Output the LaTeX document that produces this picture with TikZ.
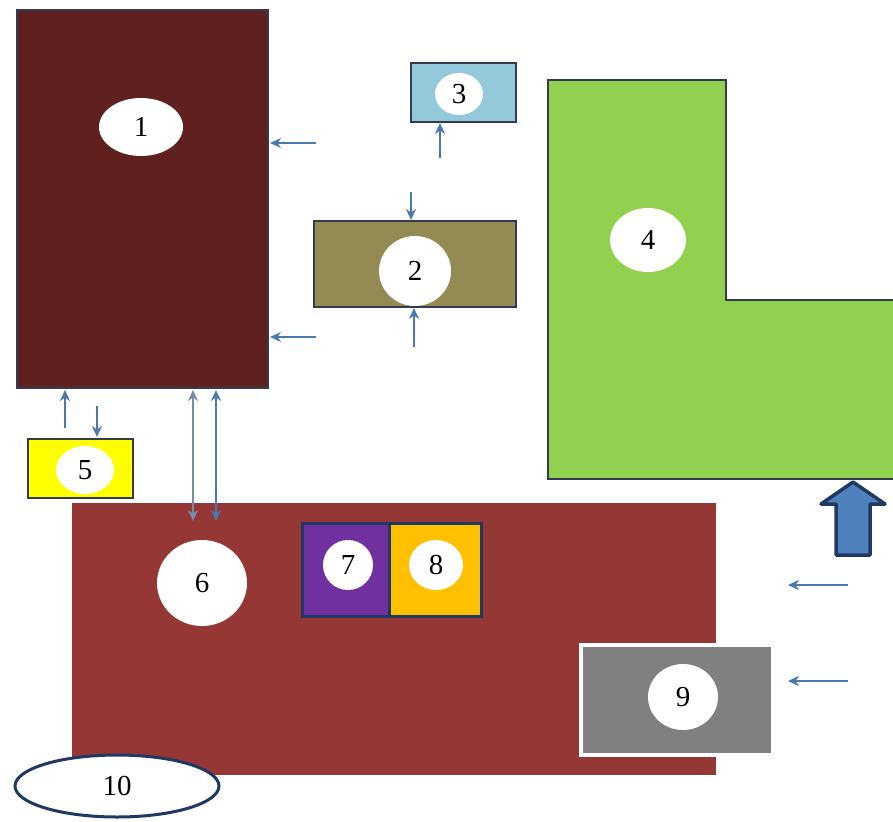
\documentclass[tikz,border=0pt]{standalone}
\usepackage{fontspec}
\setmainfont{Liberation Serif}
\usetikzlibrary{shapes.geometric,arrows.meta}
\definecolor{maroon}{HTML}{60201F}
\definecolor{olive}{HTML}{948A54}
\definecolor{lblue}{HTML}{93C9DB}
\definecolor{lgreen}{HTML}{92D050}
\definecolor{yel}{HTML}{FFFF00}
\definecolor{brick}{HTML}{953735}
\definecolor{purp}{HTML}{7030A0}
\definecolor{oran}{HTML}{FFC000}
\definecolor{greyb}{HTML}{808080}
\definecolor{navy}{HTML}{1F3864}
\definecolor{arr}{HTML}{4A79AF}
\definecolor{bigarr}{HTML}{4F81BD}
\definecolor{edge}{HTML}{333B4C}
\tikzset{
  box/.style={draw=edge,line width=1.5pt},
  lab/.style={ellipse,fill=white,inner sep=0pt,font=\fontsize{29}{30}\selectfont},
  flow/.style={draw=arr,line width=2pt,-{Stealth[length=11pt,width=10pt]}},
  dflow/.style={draw=arr,line width=2pt,{Stealth[length=11pt,width=10pt]}-{Stealth[length=11pt,width=10pt]}},
}
\begin{document}
\begin{tikzpicture}[x=1pt,y=-1pt]
\useasboundingbox[fill=white] (0,0) rectangle (893,821);
% box 1
\draw[box,fill=maroon] (17,10) rectangle (268,388);
\coordinate (b1a) at (270,143);
\coordinate (b1b) at (270,337);
\node[lab,minimum width=84pt,minimum height=58pt] (e1) at (141,127) {1};
% box 3
\draw[box,fill=lblue] (411,63) rectangle (516,122);
\node[lab,minimum width=48pt,minimum height=42pt] (e3) at (459,94) {3};
% box 2
\draw[box,fill=olive] (314,221) rectangle (516,307);
\node[lab,minimum width=72pt,minimum height=70pt] (e2) at (415,271) {2};
% shape 4
\fill[lgreen] (548,80) -- (726,80) -- (726,300) -- (893,300) -- (893,479) -- (548,479) -- cycle;
\draw[edge,line width=1.5pt] (893,300) -- (726,300) -- (726,80) -- (548,80) -- (548,479) -- (893,479);
\node[lab,minimum width=76pt,minimum height=64pt] (e4) at (648,240) {4};
% box 5
\draw[box,fill=yel] (28,439) rectangle (133,498);
\node[lab,minimum width=58pt,minimum height=48pt] (e5) at (85,470) {5};
% box 6
\fill[brick] (72,503) rectangle (716,775);
\node[lab,minimum width=90pt,minimum height=86pt] (e6) at (202,583) {6};
% boxes 7 and 8
\draw[navy,line width=3pt,fill=purp] (302,523) rectangle (389,616);
\draw[navy,line width=3pt,fill=oran] (389,523) rectangle (481,616);
\node[lab,minimum width=50pt,minimum height=50pt] (e7) at (348,565) {7};
\node[lab,minimum width=54pt,minimum height=50pt] (e8) at (436,565) {8};
% box 9
\draw[white,line width=4pt,fill=greyb] (581,645) rectangle (773,755);
\node[lab,minimum width=70pt,minimum height=66pt] (e9) at (683,697) {9};
% ellipse 10
\node[ellipse,draw=navy,line width=3pt,fill=white,minimum width=204pt,minimum height=62pt,inner sep=0pt,font=\fontsize{29}{30}\selectfont] (e10) at (117,786) {10};
% big arrow
\draw[navy,line width=3.5pt,fill=bigarr,line join=round] (853,482) -- (885,504) -- (870,504) -- (870,555) -- (836,555) -- (836,504) -- (821,504) -- cycle;
% small arrows
\coordinate (a1s) at (316,143);
\coordinate (a2s) at (316,337);
\draw[flow] (a1s) -- (b1a);
\draw[flow] (a2s) -- (b1b);
\coordinate (a3s) at (440,158); \coordinate (a3e) at (440,123);
\draw[flow] (a3s) -- (a3e);
\coordinate (a4s) at (411,192); \coordinate (a4e) at (411,220);
\draw[flow] (a4s) -- (a4e);
\coordinate (a5s) at (414,347); \coordinate (a5e) at (414,308);
\draw[flow] (a5s) -- (a5e);
\coordinate (a6s) at (65,428); \coordinate (a6e) at (65,390);
\draw[flow] (a6s) -- (a6e);
\coordinate (a7s) at (97,406); \coordinate (a7e) at (97,437);
\draw[flow] (a7s) -- (a7e);
\coordinate (d1s) at (193,390); \coordinate (d1e) at (193,521);
\draw[dflow,line width=1.3pt,draw={rgb,255:red,120;green,140;blue,170}] (d1s) -- (d1e);
\coordinate (d2s) at (216,390); \coordinate (d2e) at (216,521);
\draw[dflow] (d2s) -- (d2e);
\coordinate (a8s) at (848,585); \coordinate (a8e) at (788,585);
\draw[flow] (a8s) -- (a8e);
\coordinate (a9s) at (848,681); \coordinate (a9e) at (788,681);
\draw[flow] (a9s) -- (a9e);
\end{tikzpicture}
\end{document}
